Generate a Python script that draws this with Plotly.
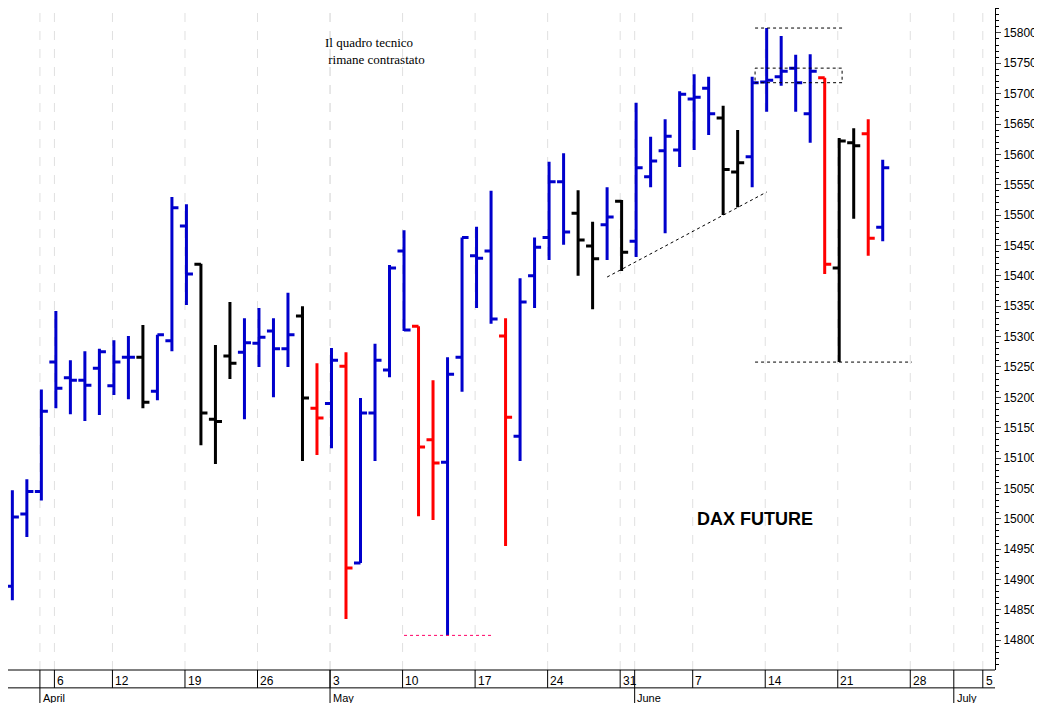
import pandas as pd
import plotly.graph_objects as go

# DAX future, giornaliero 30 mar - 24 giu 2021
opens = [14889, 15008, 15045, 15258, 15232, 15228, 15248, 15219, 15266, 15266,
         15210, 15293, 15482, 15419, 15164, 15268, 15274, 15289, 15309, 15280,
         15334, 15182, 15190, 15251, 14927, 15174, 15245, 15441, 15317, 15130,
         15093, 15266, 15433, 15441, 15301, 15136, 15400, 15463, 15555, 15503,
         15449, 15484, 15523, 15457, 15563, 15606, 15607, 15691, 15709, 15660,
         15571, 15596, 15719, 15728, 15742, 15667, 15726, 15413, 15619, 15634,
         15480]
highs = [15047, 15065, 15213, 15342, 15261, 15276, 15280, 15294, 15301, 15319,
         15303, 15530, 15518, 15420, 15286, 15357, 15330, 15347, 15330, 15372,
         15350, 15256, 15281, 15274, 15199, 15288, 15418, 15475, 15317, 15228,
         15266, 15463, 15481, 15540, 15330, 15396, 15463, 15588, 15602, 15541,
         15489, 15546, 15525, 15685, 15629, 15658, 15704, 15732, 15728, 15680,
         15640, 15728, 15808, 15795, 15764, 15765, 15726, 15627, 15643, 15658,
         15591]
lows = [14866, 14970, 15030, 15182, 15172, 15161, 15171, 15204, 15197, 15182,
        15195, 15276, 15352, 15121, 15090, 15230, 15164, 15250, 15200, 15250,
        15095, 15105, 15116, 14835, 14927, 15095, 15233, 15309, 15004, 14998,
        14808, 15209, 15347, 15321, 14955, 15095, 15347, 15426, 15451, 15400,
        15345, 15426, 15408, 15431, 15546, 15470, 15579, 15607, 15632, 15500,
        15513, 15546, 15670, 15713, 15670, 15619, 15403, 15258, 15494, 15433,
        15457]
closes = [15003, 15045, 15177, 15215, 15228, 15220, 15275, 15258, 15266, 15192,
          15303, 15512, 15403, 15174, 15160, 15256, 15290, 15299, 15280, 15303,
          15199, 15166, 15261, 14919, 15174, 15261, 15413, 15311, 15118, 15092,
          15238, 15463, 15429, 15329, 15167, 15357, 15447, 15555, 15472, 15459,
          15428, 15497, 15439, 15578, 15589, 15630, 15699, 15694, 15667, 15575,
          15586, 15718, 15722, 15737, 15718, 15737, 15419, 15622, 15614, 15462,
          15578]
colors = list("bbbbbbbbbkbbbkkkbbbbkrbrbbbbrrbbbbrbbbbkkbkbbbbbbkkbbbbbrkkrb")

week_labels = ["29", "6", "12", "19", "26", "3", "10", "17", "24", "31", "7", "14", "21", "28", "5"]
month_labels = ["April", "May", "June", "July"]

# giorni di borsa (Venerdi Santo e Pasquetta chiusi), esteso fino a luglio
days = pd.bdate_range("2021-03-29", "2021-07-09")
days = days[~days.isin(pd.to_datetime(["2021-04-02", "2021-04-05"]))]
pos = {d: i - 1 for i, d in enumerate(days)}  # 30 marzo = 0

week_x = [pos[d] for d in days if d.weekday() == 0 or d == pd.Timestamp("2021-04-06")][:len(week_labels)]
month_x = []
for m in (4, 5, 6, 7):
    month_x.append(pos[[d for d in days if d.month == m][0]])

cmap = {"b": "#0000cc", "r": "#ff0000", "k": "#000000"}
fig = go.Figure()
for c in "bkr":
    idx = [i for i, cc in enumerate(colors) if cc == c]
    fig.add_trace(go.Ohlc(
        x=idx, open=[opens[i] for i in idx], high=[highs[i] for i in idx],
        low=[lows[i] for i in idx], close=[closes[i] for i in idx],
        increasing=dict(line=dict(color=cmap[c], width=3)),
        decreasing=dict(line=dict(color=cmap[c], width=3)),
        tickwidth=0.45, showlegend=False, hoverinfo="skip"))

shapes = []
for x in week_x + month_x:
    shapes.append(dict(type="line", xref="x", yref="paper", x0=x - 0.1, x1=x - 0.1, y0=0, y1=1,
                       line=dict(color="#e0e0e0", width=1, dash="dash"), layer="below"))
    shapes.append(dict(type="line", xref="x", yref="paper", x0=x - 0.1, x1=x - 0.1, y0=0, y1=-0.027,
                       line=dict(color="black", width=1)))
for x in month_x:
    shapes.append(dict(type="line", xref="x", yref="paper", x0=x - 0.1, x1=x - 0.1, y0=-0.027, y1=-0.06,
                       line=dict(color="black", width=1)))
shapes.append(dict(type="line", xref="paper", yref="paper", x0=0, x1=1, y0=0, y1=0,
                   line=dict(color="black", width=1)))
shapes.append(dict(type="line", xref="paper", yref="paper", x0=0, x1=1, y0=-0.027, y1=-0.027,
                   line=dict(color="black", width=1)))
dash = dict(color="black", width=1, dash="dot")
shapes += [
    dict(type="line", x0=51.2, x1=57.2, y0=15808, y1=15808, line=dash),
    dict(type="rect", x0=51.2, x1=57.2, y0=15718, y1=15742, line=dash),
    dict(type="line", x0=51.2, x1=62, y0=15258, y1=15258, line=dash),
    dict(type="line", x0=41, x1=52, y0=15398, y1=15538, line=dash),
    dict(type="line", x0=27, x1=33, y0=14808, y1=14808, line=dict(color="#ff0066", width=1, dash="dot")),
]

annotations = []
for x, t in zip(week_x, week_labels):
    annotations.append(dict(x=x - 0.05, y=-0.003, xref="x", yref="paper", text=t, showarrow=False,
                            xanchor="left", yanchor="top", font=dict(size=12)))
for x, t in zip(month_x, month_labels):
    annotations.append(dict(x=x - 0.05, y=-0.03, xref="x", yref="paper", text=t, showarrow=False,
                            xanchor="left", yanchor="top", font=dict(size=11)))
annotations.append(dict(x=25, y=15770, text="Il quadro tecnico<br> rimane contrastato", showarrow=False,
                        font=dict(size=13, family="Liberation Serif", color="black"), align="left"))
annotations.append(dict(x=51.2, y=15000, text="<b>DAX FUTURE</b>", showarrow=False,
                        font=dict(size=18, family="Liberation Sans", color="black")))

fig.update_layout(
    width=1034, height=695,
    margin=dict(l=0, r=47, t=0, b=33),
    paper_bgcolor="white", plot_bgcolor="white",
    font=dict(family="Liberation Sans Narrow, Arial Narrow, Liberation Sans", color="black", size=12),
    shapes=shapes, annotations=annotations,
    xaxis=dict(range=[-0.3, 67.74], showticklabels=False, showgrid=False, zeroline=False,
               rangeslider=dict(visible=False), showline=False, fixedrange=True),
    yaxis=dict(side="right", range=[14751, 15841], tick0=14800, dtick=50, ticks="outside", ticklen=5,
               tickformat="d", showgrid=False, zeroline=False, showline=True, linecolor="black",
               minor=dict(ticks="outside", ticklen=3, dtick=10, tickcolor="black"),
               tickfont=dict(size=12)),
)
fig.write_html("out.html")
